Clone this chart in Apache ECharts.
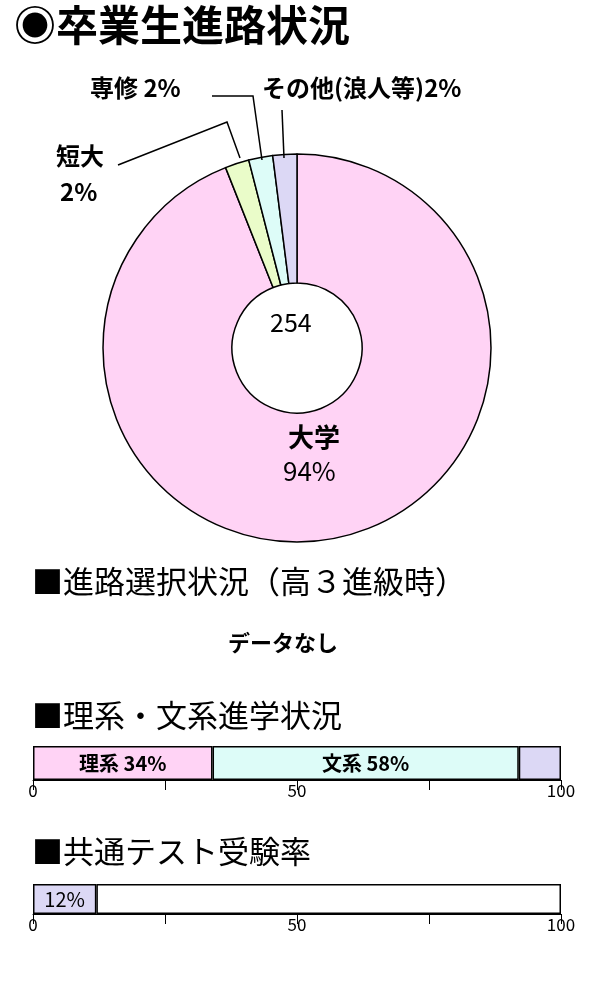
<!DOCTYPE html>
<html><head><meta charset="utf-8">
<script src="https://cdn.jsdelivr.net/npm/echarts@6/dist/echarts.min.js"></script>
<style>html,body{margin:0;padding:0;background:#fff}#c{width:600px;height:1000px}</style>
</head><body><div id="c"></div>
<script>
var pieNames = ['大学', '短大', '専修', 'その他'];
var pieValues = [94, 2, 2, 2];
var pieColors = ['#ffd3f5', '#eafcc9', '#ddfcf8', '#dcd8f5'];
var total = 254;
var courseNames = ['理系', '文系', 'その他'];
var courseValues = [34, 58, 8];
var courseColors = ['#ffd3f5', '#ddfcf8', '#dcd8f5'];
var testRate = [12];
var tickLabels = ['0', '50', '100'];

var F = '"Noto Sans CJK JP", sans-serif';
var chart = echarts.init(document.getElementById('c'));

function axisX(idx) {
  return {
    gridIndex: idx, type: 'value', min: 0, max: 100, interval: 25,
    axisLine: { show: true, lineStyle: { color: '#000' } },
    axisTick: { show: true, length: 10, inside: false, lineStyle: { color: '#000' } },
    splitLine: { show: false },
    axisLabel: {
      color: '#000', fontFamily: F, fontSize: 17, margin: 2,
      formatter: function (v) { return tickLabels.indexOf(String(v)) >= 0 ? String(v) : ''; }
    }
  };
}
function axisY(idx) {
  return { gridIndex: idx, type: 'category', data: [''], show: false };
}

var series = [{
  type: 'pie', center: [297, 348], radius: [65, 194], startAngle: 90, clockwise: true,
  silent: true,
  itemStyle: { borderColor: '#000', borderWidth: 1.5 },
  label: { show: false },
  data: pieNames.map(function (n, i) {
    return { name: n, value: pieValues[i], itemStyle: { color: pieColors[i] } };
  })
}];
courseValues.forEach(function (v, i) {
  series.push({
    type: 'bar', stack: 'a', xAxisIndex: 0, yAxisIndex: 0, barWidth: 34,
    data: [v],
    itemStyle: { color: courseColors[i], borderColor: '#000', borderWidth: 1.5 },
    label: {
      show: i < 2, position: 'inside', color: '#000', fontFamily: F, fontSize: 20, fontWeight: 'bold',
      formatter: courseNames[i] + ' ' + v + '%'
    }
  });
});
series.push({
  type: 'bar', stack: 'b', xAxisIndex: 1, yAxisIndex: 1, barWidth: 30, data: testRate,
  itemStyle: { color: '#dcd8f5', borderColor: '#000', borderWidth: 1.5 },
  label: { show: true, position: 'inside', color: '#000', fontFamily: F, fontSize: 20, formatter: '{c}%' }
});
series.push({
  type: 'bar', stack: 'b', xAxisIndex: 1, yAxisIndex: 1, barWidth: 30, data: [100 - testRate[0]],
  itemStyle: { color: '#fff', borderColor: '#000', borderWidth: 1.5 }
});

function txt(x, y, s, size, weight) {
  return { type: 'text', z: 100, left: x, top: y, style: { text: s, fill: '#000', font: (weight || 'normal') + ' ' + size + 'px ' + F } };
}
function line(pts) {
  return { type: 'polyline', z: 100, shape: { points: pts }, style: { stroke: '#000', lineWidth: 1.5, fill: null } };
}

chart.setOption({
  animation: false,
  grid: [
    { left: 33, right: 39, top: 746, height: 34 },
    { left: 33, right: 39, top: 884, height: 30 }
  ],
  xAxis: [axisX(0), axisX(1)],
  yAxis: [axisY(0), axisY(1)],
  series: series,
  graphic: [
    txt(14, 4, '◉卒業生進路状況', 42, 'bold'),
    txt(90, 76, '専修 2%', 24, 'bold'),
    txt(262, 76, 'その他(浪人等)2%', 24, 'bold'),
    txt(56, 144, '短大', 24, 'bold'),
    txt(60, 180, '2%', 24, 'bold'),
    line([[118, 165], [227, 122], [240, 158]]),
    line([[212, 96], [253, 96], [262, 160]]),
    line([[282, 110], [284, 158]]),
    txt(270, 310, String(total), 25),
    txt(288, 424, '大学', 26, 'bold'),
    txt(283, 458, '94%', 26),
    txt(32, 566, '■進路選択状況（高３進級時）', 31),
    txt(228, 632, 'データなし', 22, 'bold'),
    txt(32, 700, '■理系・文系進学状況', 31),
    txt(32, 836, '■共通テスト受験率', 31)
  ]
});
</script></body></html>
